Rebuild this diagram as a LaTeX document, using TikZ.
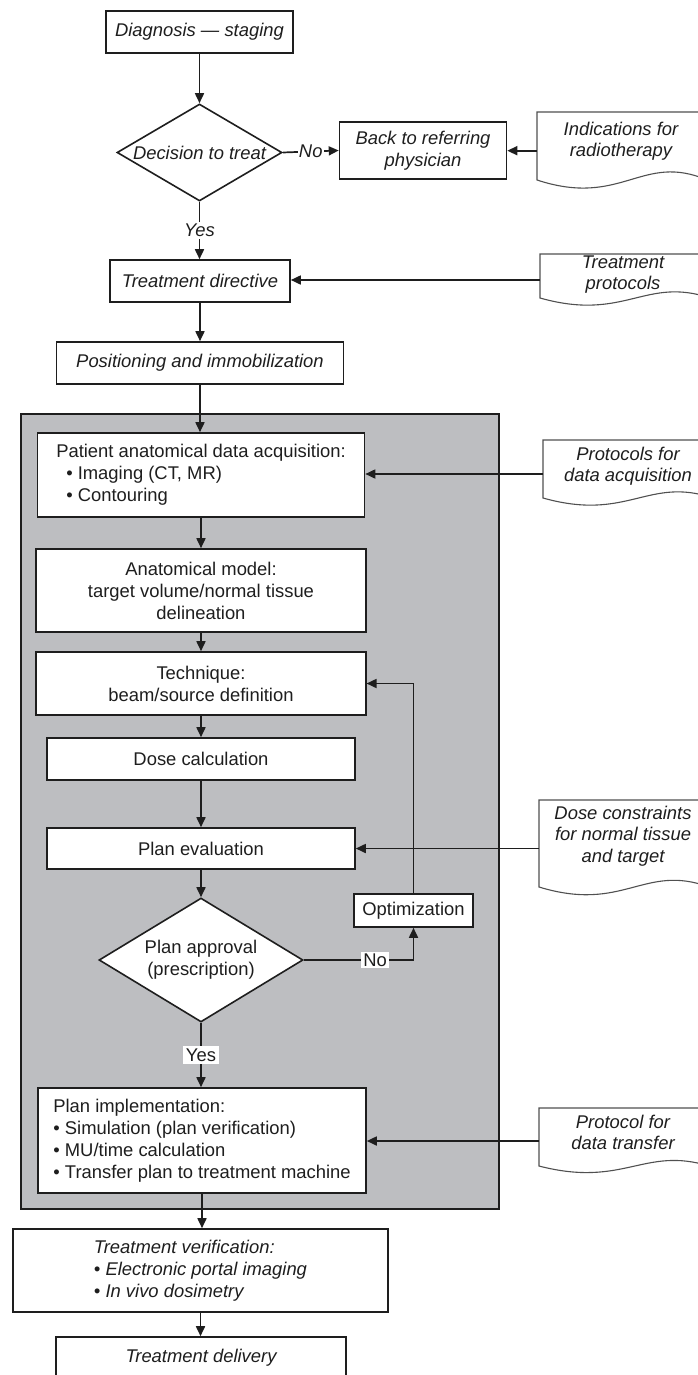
\documentclass[tikz,border=0pt]{standalone}
\usepackage{fontspec}
\setmainfont{Liberation Sans}
\usetikzlibrary{shapes.geometric,arrows.meta}
\definecolor{panel}{RGB}{189,190,193}
\definecolor{ink}{RGB}{30,30,30}
\definecolor{docink}{RGB}{80,80,80}
\begin{document}
\begin{tikzpicture}[x=1pt,y=-1pt,
  every node/.style={font=\fontsize{18.4}{22}\selectfont, text=ink},
  box/.style={draw=ink, line width=1.6pt, fill=white, inner sep=0pt, align=center},
  ibox/.style={box, font=\fontsize{18.4}{22}\selectfont\itshape},
  dtext/.style={align=center, inner sep=0pt, font=\fontsize{18.4}{21.5}\selectfont\itshape},
  docline/.style={draw=docink, line width=1.1pt, fill=white},
  conn/.style={draw=ink, line width=1.7pt},
  arr/.style={conn, -{Triangle[length=10pt,width=9pt]}},
  lbl/.style={fill=white, inner sep=2pt},
  ilbl/.style={lbl, font=\fontsize{18.4}{22}\selectfont\itshape}
]
\useasboundingbox (0,0) rectangle (698,1375);
\clip (0,0) rectangle (698,1375);

% grey panel
\node[draw=ink, fill=panel, line width=1.6pt, minimum width=478pt, minimum height=795pt, inner sep=0pt] (panel) at (260,811.5) {};

% main column
\node[ibox, minimum width=187pt, minimum height=42pt] (diag) at (199.5,32) {Diagnosis — staging};
\node[ibox, shape=diamond, aspect=1.7, minimum width=165pt, minimum height=97pt] (dec) at (199.5,152.5) {Decision to treat};
\node[ibox, minimum width=167pt, minimum height=57pt] (back) at (423,150.5) {Back to referring\\physician};
\node[ibox, minimum width=180pt, minimum height=42pt] (dir) at (200,281) {Treatment directive};
\node[ibox, minimum width=287pt, minimum height=42pt] (pos) at (200,363) {Positioning and immobilization};

\node[box, align=left, minimum width=327pt, minimum height=84pt] (pat) at (201,475)
  {Patient anatomical data acquisition:\\\hspace*{10pt}• Imaging (CT, MR)\\\hspace*{10pt}• Contouring};
\node[box, minimum width=329.5pt, minimum height=83pt] (anat) at (201,590.5)
  {Anatomical model:\\target volume/normal tissue\\delineation};
\node[box, minimum width=329.5pt, minimum height=63pt] (tech) at (201,683.5)
  {Technique:\\beam/source definition};
\node[box, minimum width=308pt, minimum height=42pt] (dose) at (201,759) {Dose calculation};
\node[box, minimum width=308pt, minimum height=41pt] (eval) at (201,848.5) {Plan evaluation};
\node[box, shape=diamond, aspect=1.65, minimum width=204pt, minimum height=124pt] (appr) at (201,960)
  {Plan approval\\(prescription)};
\node[box, minimum width=119pt, minimum height=33pt] (opt) at (413.5,910.5) {Optimization};
\node[box, align=left, minimum width=328pt, minimum height=105pt] (impl) at (202,1140.5)
  {Plan implementation:\\• Simulation (plan verification)\\• MU/time calculation\\• Transfer plan to treatment machine};
\node[ibox, align=left, minimum width=375pt, minimum height=83pt] (verif) at (200.5,1270.5)
  {Treatment verification:\\• Electronic portal imaging\\• In vivo dosimetry};
\node[ibox, minimum width=289.5pt, minimum height=42pt] (deliv) at (201,1358) {Treatment delivery};

% document shapes
\draw[docline] (710,112) -- (537,112) -- (537,180) .. controls (622,208) and (642,152) .. (707,180);
\node[dtext] (d1) at (621,141) {Indications for\\radiotherapy};
\coordinate (d1a) at (537,150.7);

\draw[docline] (710,254) -- (540,254) -- (540,298) .. controls (625,322) and (645,276) .. (710,298);
\node[dtext] (d2) at (623,274.5) {Treatment\\protocols};
\coordinate (d2a) at (540,280);

\draw[docline] (710,440) -- (543,440) -- (543,498) .. controls (628,522) and (648,476) .. (713,498);
\node[dtext] (d3) at (628,466) {Protocols for\\data acquisition};
\coordinate (d3a) at (543,474);

\draw[docline] (710,800) -- (539,800) -- (539,887) .. controls (624,913) and (644,863) .. (709,887);
\node[dtext] (d4) at (623,836) {Dose constraints\\for normal tissue\\and target};
\coordinate (d4a) at (539,848.5);

\draw[docline] (710,1108) -- (539,1108) -- (539,1166) .. controls (624,1188) and (644,1146) .. (709,1166);
\node[dtext] (d5) at (623,1132.5) {Protocol for\\data transfer};
\coordinate (d5a) at (539,1141);

% connectors
\draw[arr] (diag.south) -- (diag.south |- dec.north);
\draw[arr] (dec.east) -- node[ilbl, inner sep=1pt]{No} (back.west);
\draw[arr] (d1a) -- (d1a -| back.east);
\draw[arr] (dec.south) -- node[ilbl]{Yes} (dec.south |- dir.north);
\draw[arr] (d2a) -- (d2a -| dir.east);
\draw[arr] (dir.south) -- (dir.south |- pos.north);
\draw[arr] (pos.south) -- (pos.south |- pat.north);
\draw[arr] (d3a) -- (d3a -| pat.east);
\draw[arr] (pat.south) -- (pat.south |- anat.north);
\draw[arr] (anat.south) -- (anat.south |- tech.north);
\draw[arr] (tech.south) -- (tech.south |- dose.north);
\draw[arr] (dose.south) -- (dose.south |- eval.north);
\draw[arr] (opt.north) |- (tech.east);
\draw[arr] (d4a) -- (d4a -| eval.east);
\draw[arr] (eval.south) -- (eval.south |- appr.north);
\draw[arr] (appr.east) -- node[lbl, pos=0.65]{No} (appr.east -| opt.south) -- (opt.south);
\draw[arr] (appr.south) -- node[lbl, inner sep=3pt]{Yes} (appr.south |- impl.north);
\draw[arr] (d5a) -- (d5a -| impl.east);
\draw[arr] (impl.south) -- (impl.south |- verif.north);
\draw[arr] (verif.south) -- (verif.south |- deliv.north);
\end{tikzpicture}
\end{document}
